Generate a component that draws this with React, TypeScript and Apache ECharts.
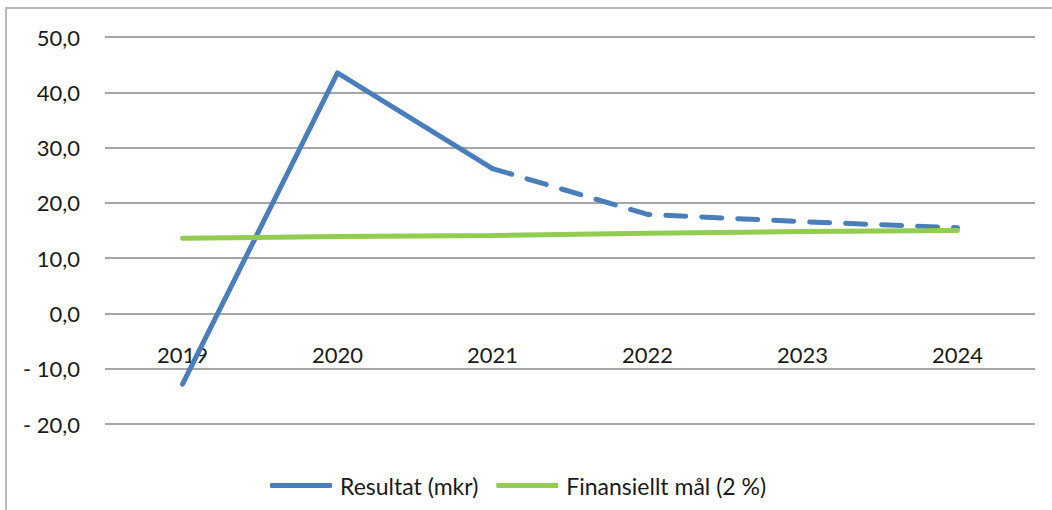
import React, { useEffect, useRef } from "react";
import * as echarts from "echarts";

const years = ["2019", "2020", "2021", "2022", "2023", "2024"];
const resultatActual = [-12.8, 43.5, 26.2, null, null, null];
const resultatForecast = [null, null, 26.2, 17.9, 16.6, 15.5];
const finansielltMal = [13.6, 13.9, 14.1, 14.5, 14.8, 15.0];

const BLUE = "#4a7ebb";
const GREEN = "#92cc50";
const FONT = "Lato, 'Open Sans', sans-serif";

function fmt(v: number) {
  const s = Math.abs(v).toFixed(1).replace(".", ",");
  return v < 0 ? "- " + s : s;
}

export default function App() {
  const ref = useRef<HTMLDivElement>(null);
  useEffect(() => {
    if (!ref.current) return;
    const chart = echarts.init(ref.current, undefined, { renderer: "svg" });
    chart.setOption({
      animation: false,
      textStyle: { fontFamily: FONT },
      graphic: [
        {
          type: "rect",
          shape: { x: 6, y: 8, width: 1100, height: 560 },
          style: { fill: "none", stroke: "#b8b8b8", lineWidth: 2 },
          silent: true,
        },
      ],
      grid: { left: 105, right: 17, top: 37, bottom: 86, containLabel: false },
      legend: {
        top: 469,
        left: 265,
        data: ["Resultat (mkr)", "Finansiellt mål (2 %)"],
        icon: "roundRect",
        itemWidth: 62,
        itemHeight: 5,
        itemGap: 18,
        textStyle: { fontFamily: FONT, fontSize: 23, color: "#1a1a1a", padding: [0, 0, 0, 3] },
      },
      xAxis: {
        type: "category",
        data: years,
        boundaryGap: true,
        offset: -111,
        z: 1,
        axisLine: { show: false, onZero: false },
        axisTick: { show: false },
        axisLabel: { fontFamily: FONT, fontSize: 22, color: "#1a1a1a", margin: 30 },
        splitLine: { show: false },
      },
      yAxis: {
        type: "value",
        min: -20,
        max: 50,
        interval: 10,
        axisLine: { show: false },
        axisTick: { show: false },
        axisLabel: {
          fontFamily: FONT,
          fontSize: 22,
          color: "#1a1a1a",
          margin: 25,
          formatter: (v: number) => fmt(v),
        },
        splitLine: { lineStyle: { color: "#a6a6a6", width: 2 } },
      },
      series: [
        {
          name: "Resultat (mkr)",
          type: "line",
          data: resultatActual,
          showSymbol: false,
          symbol: "none",
          lineStyle: { color: BLUE, width: 5, cap: "round", join: "round" },
          itemStyle: { color: BLUE },
          z: 3,
        },
        {
          name: "Resultat prognos",
          type: "line",
          data: resultatForecast,
          showSymbol: false,
          symbol: "none",
          lineStyle: { color: BLUE, width: 5, type: [20, 16], cap: "round" },
          itemStyle: { color: BLUE },
          z: 3,
        },
        {
          name: "Finansiellt mål (2 %)",
          type: "line",
          data: finansielltMal,
          showSymbol: false,
          symbol: "none",
          lineStyle: { color: GREEN, width: 5, cap: "round" },
          itemStyle: { color: GREEN },
          z: 4,
        },
      ],
    });
    return () => chart.dispose();
  }, []);
  return (
    <div
      ref={ref}
      style={{ position: "absolute", left: 0, top: 0, width: 1052, height: 510 }}
    />
  );
}
